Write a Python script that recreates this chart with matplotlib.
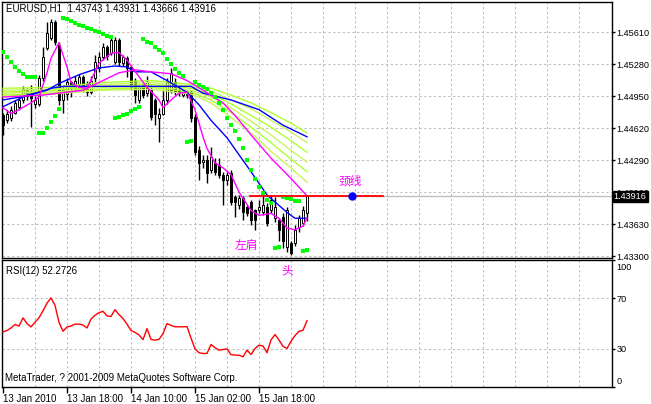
# -*- coding: utf-8 -*-
import matplotlib.pyplot as plt
from matplotlib.transforms import ScaledTranslation, blended_transform_factory

plt.rcParams['font.family'] = ['Liberation Sans', 'Noto Sans CJK SC', 'DejaVu Sans']

# EURUSD H1, 13-15 Jan 2010
opens = [1.4475, 1.4470, 1.4472, 1.4478, 1.4484, 1.4491, 1.4501, 1.4496, 1.4487, 1.4487,
         1.4514, 1.4545, 1.4555, 1.4571, 1.4548, 1.4491, 1.4497, 1.4509, 1.4503, 1.4507,
         1.4515, 1.4507, 1.4499, 1.4514, 1.4524, 1.4535, 1.4546, 1.4539, 1.4530, 1.4553,
         1.4529, 1.4534, 1.4525, 1.4511, 1.4491, 1.4506, 1.4498, 1.4501, 1.4491, 1.4472,
         1.4477, 1.4491, 1.4501, 1.4509, 1.4501, 1.4496, 1.4499, 1.4499, 1.4473, 1.4439,
         1.4427, 1.4429, 1.4419, 1.4426, 1.4424, 1.4414, 1.4408, 1.4416, 1.4391, 1.4383,
         1.4390, 1.4381, 1.4386, 1.4377, 1.4377, 1.4375, 1.4381, 1.4377, 1.4369, 1.4367,
         1.4370, 1.4339, 1.4343, 1.4343, 1.4360, 1.4364, 1.43743]
highs = [1.4478, 1.4481, 1.4485, 1.4491, 1.4495, 1.4505, 1.4503, 1.4506, 1.4495, 1.4517,
         1.4546, 1.4571, 1.4574, 1.4573, 1.4551, 1.4505, 1.4514, 1.4511, 1.4516, 1.4518,
         1.4517, 1.4511, 1.4516, 1.4537, 1.4540, 1.4550, 1.4548, 1.4556, 1.4556, 1.4555,
         1.4537, 1.4536, 1.4527, 1.4514, 1.4506, 1.4508, 1.4516, 1.4506, 1.4493, 1.4483,
         1.4501, 1.4514, 1.4524, 1.4514, 1.4505, 1.4502, 1.4501, 1.4501, 1.4476, 1.4444,
         1.4434, 1.4434, 1.4442, 1.4431, 1.4431, 1.4417, 1.4417, 1.4419, 1.4393, 1.4393,
         1.4392, 1.4383, 1.4388, 1.4379, 1.4388, 1.4393, 1.4385, 1.4393, 1.4391, 1.4369,
         1.4374, 1.4381, 1.4346, 1.4362, 1.4372, 1.4382, 1.43931]
lows = [1.4455, 1.4467, 1.4469, 1.4476, 1.4481, 1.4488, 1.4491, 1.4463, 1.4483, 1.4485,
        1.4511, 1.4542, 1.4553, 1.4548, 1.4486, 1.4478, 1.4491, 1.4494, 1.4499, 1.4503,
        1.4499, 1.4495, 1.4497, 1.4509, 1.4520, 1.4532, 1.4532, 1.4537, 1.4528, 1.4526,
        1.4526, 1.4515, 1.4501, 1.4488, 1.4488, 1.4493, 1.4495, 1.4470, 1.4465, 1.4448,
        1.4475, 1.4487, 1.4498, 1.4496, 1.4495, 1.4494, 1.4493, 1.4468, 1.4434, 1.4408,
        1.4421, 1.4405, 1.4416, 1.4414, 1.4410, 1.4383, 1.4403, 1.4383, 1.4370, 1.4379,
        1.4367, 1.4371, 1.4362, 1.4357, 1.4374, 1.4372, 1.4361, 1.4374, 1.4365, 1.4346,
        1.4338, 1.4334, 1.4331, 1.4340, 1.4355, 1.4361, 1.43666]
closes = [1.4465, 1.4477, 1.4481, 1.4488, 1.4491, 1.4502, 1.4495, 1.4493, 1.4491, 1.4514,
          1.4535, 1.4560, 1.4571, 1.4551, 1.4491, 1.4501, 1.4509, 1.4503, 1.4511, 1.4515,
          1.4505, 1.4499, 1.4511, 1.4530, 1.4535, 1.4546, 1.4536, 1.4553, 1.4553, 1.4530,
          1.4535, 1.4524, 1.4504, 1.4496, 1.4504, 1.4496, 1.4509, 1.4473, 1.4477, 1.4477,
          1.4491, 1.4509, 1.4519, 1.4499, 1.4498, 1.4499, 1.4496, 1.4472, 1.4437, 1.4426,
          1.4429, 1.4416, 1.4432, 1.4417, 1.4414, 1.4408, 1.4414, 1.4386, 1.4386, 1.4390,
          1.4375, 1.4374, 1.4367, 1.4367, 1.4381, 1.4383, 1.4364, 1.4388, 1.4381, 1.4357,
          1.4346, 1.4377, 1.4333, 1.4357, 1.4369, 1.4377, 1.43916]

# Parabolic SAR, one dot per bar
sar = [1.4540, 1.4535, 1.4530, 1.4525, 1.4521, 1.4518, 1.4515, 1.4515, 1.4515, 1.4457,
       1.4457, 1.4462, 1.4468, 1.4474, 1.4482, 1.4576, 1.4574, 1.4572, 1.4570, 1.4568,
       1.4567, 1.4565, 1.4564, 1.4562, 1.4561, 1.4559, 1.4557, 1.4556, 1.4472, 1.4473,
       1.4475, 1.4477, 1.4480, 1.4482, 1.4484, 1.4554, 1.4551, 1.4550, 1.4546, 1.4542,
       1.4539, 1.4533, 1.4528, 1.4523, 1.4519, 1.4516, 1.4448, 1.4449, 1.4509, 1.4506,
       1.4504, 1.4502, 1.4498, 1.4494, 1.4488, 1.4481, 1.4472, 1.4465, 1.4459, 1.4451,
       1.4441, 1.4429, 1.4419, 1.4409, 1.4401, 1.4395, 1.4388, 1.4385, 1.4338, 1.4339,
       1.4391, 1.4390, 1.4389, 1.4387, 1.4387, 1.4335, 1.4336]

# moving averages, read at some bars (bar index, price)
fast_ma_bars = [0, 2, 4, 7, 9, 11, 12, 14, 16, 17, 19, 21, 23, 24, 27, 29, 31, 34, 36, 39,
                40, 42, 44, 46, 48, 50, 51, 53, 55, 57, 59, 62, 64, 67, 69, 71, 73, 75, 76]
fast_ma = [1.4483, 1.4477, 1.4481, 1.4488, 1.4494, 1.4519, 1.4534, 1.4550, 1.4525, 1.4509,
           1.4504, 1.4503, 1.4520, 1.4529, 1.4539, 1.4540, 1.4532, 1.4515, 1.4504, 1.4491,
           1.4483, 1.4491, 1.4498, 1.4499, 1.4481, 1.4453, 1.4441, 1.4426, 1.4421, 1.4414,
           1.4396, 1.4377, 1.4372, 1.4374, 1.4369, 1.4359, 1.4357, 1.4361, 1.4369]
slow_ma_bars = [0, 10, 20, 25, 29, 33, 37, 42, 46, 50, 55, 58, 62, 67, 72, 76]
slow_ma = [1.4494, 1.4496, 1.4501, 1.4511, 1.4519, 1.4522, 1.4520, 1.4518, 1.4511, 1.4501,
           1.4488, 1.4475, 1.4455, 1.4431, 1.4410, 1.4392]
mid_ma_bars = [0, 6, 11, 14, 19, 24, 28, 31, 33, 37, 41, 46, 49, 52, 56, 62, 66, 71, 73, 76]
mid_ma = [1.4484, 1.4496, 1.4501, 1.4508, 1.4517, 1.4524, 1.4526, 1.4525, 1.4520, 1.4520,
          1.4511, 1.4499, 1.4486, 1.4470, 1.4452, 1.4417, 1.4393, 1.4375, 1.4369, 1.4369]
long_ma_bars = [0, 7, 12, 15, 47, 50, 57, 64, 70, 76]
long_ma = [1.4491, 1.4496, 1.4503, 1.4505, 1.4505, 1.4498, 1.4491, 1.4481, 1.4465, 1.4453]

# the yellow-green ribbon
ribbon_bars = [0, 12, 25, 37, 47, 52, 57, 62, 67, 72, 76]
ribbon_1 = [1.4503, 1.4504, 1.4509, 1.4511, 1.4507, 1.4503, 1.4496, 1.4488, 1.4478, 1.4467, 1.4457]
ribbon_2 = [1.4501, 1.4502, 1.4507, 1.4509, 1.4505, 1.4500, 1.4491, 1.4482, 1.4470, 1.4458, 1.4447]
ribbon_3 = [1.4499, 1.4501, 1.4505, 1.4507, 1.4503, 1.4497, 1.4487, 1.4475, 1.4463, 1.4449, 1.4437]
ribbon_4 = [1.4498, 1.4499, 1.4504, 1.4505, 1.4501, 1.4494, 1.4483, 1.4469, 1.4455, 1.4439, 1.4427]
ribbon_5 = [1.4496, 1.4498, 1.4502, 1.4504, 1.4499, 1.4491, 1.4478, 1.4463, 1.4447, 1.4430, 1.4417]
ribbon_6 = [1.4495, 1.4497, 1.4501, 1.4502, 1.4497, 1.4488, 1.4473, 1.4457, 1.4438, 1.4421, 1.4406]

# RSI(12)
rsi = [43.4, 44.5, 46.5, 49.2, 48.0, 54.4, 50.0, 47.3, 51.0, 54.5,
       60.0, 66.0, 70.2, 64.3, 51.0, 43.9, 47.3, 48.0, 49.5, 49.5,
       48.8, 46.5, 53.5, 56.5, 58.5, 59.6, 56.0, 55.5, 60.9, 57.0,
       53.9, 49.5, 44.5, 43.0, 41.0, 37.3, 46.0, 37.5, 36.9, 37.5,
       42.0, 50.0, 48.5, 47.4, 47.4, 47.4, 47.6, 38.5, 30.0, 27.0,
       26.4, 26.4, 33.5, 31.0, 29.0, 29.5, 30.0, 25.5, 25.1, 25.0,
       23.8, 29.0, 25.6, 30.3, 32.9, 32.3, 27.0, 37.0, 41.3, 37.0,
       32.0, 30.3, 36.0, 40.5, 43.9, 44.7, 52.27]

price_ticks = [1.45610, 1.45280, 1.44950, 1.44620, 1.44290, 1.43960, 1.43630, 1.43300]
date_ticks = [0, 16, 32, 48, 64]
date_labels = ['13 Jan 2010', '13 Jan 18:00', '14 Jan 10:00', '15 Jan 02:00', '15 Jan 18:00']

# hand-drawn neckline (bar from, bar to, price) and labels
neck_start, neck_end, neck_price, neck_point = 61.75, 95.0, 1.43918, 87.25

GRID = dict(color='#c0c0c0', lw=0.75, dashes=(2.3, 2.3))


def draw_chart():
    fig = plt.figure(figsize=(6.51, 4.04), dpi=100)
    ax = fig.add_axes([2 / 651, 1 - 258 / 404, 610 / 651, 256 / 404])
    ax2 = fig.add_axes([2 / 651, 1 - 387 / 404, 610 / 651, 127 / 404])
    n = len(closes)
    idx = list(range(n))

    for a in (ax, ax2):
        a.set_xlim(-0.25, 152.25)
        for v in range(8, 152, 8):
            a.axvline(v, zorder=0, **GRID)
        for s in a.spines.values():
            s.set_linewidth(1.0)
            s.set_color('black')

    # main panel
    ax.set_ylim(1.43280, 1.45920)
    for p in price_ticks:
        ax.axhline(p, zorder=0, **GRID)
    ax.axhline(closes[-1], color='#c0c0c0', lw=1.0, zorder=0.5)

    ax.vlines(idx, lows, highs, color='black', lw=1.0, zorder=2)
    bottoms = [min(o, c) for o, c in zip(opens, closes)]
    heights = [max(abs(c - o), 0.00003) for o, c in zip(opens, closes)]
    faces = ['white' if c >= o else 'black' for o, c in zip(opens, closes)]
    ax.bar(idx, heights, bottom=bottoms, width=0.72, color=faces,
           edgecolor='black', linewidth=0.7, zorder=2.2)

    for vals in (ribbon_1, ribbon_3, ribbon_5):
        ax.plot(ribbon_bars, vals, color='#adff2f', lw=1.0, zorder=3)
    for vals in (ribbon_2, ribbon_4, ribbon_6):
        ax.plot(ribbon_bars, vals, color='#c8f55a', lw=1.0, zorder=3)
    ax.plot(long_ma_bars, long_ma, color='#0000ff', lw=1.0, zorder=3.1)
    ax.plot(mid_ma_bars, mid_ma, color='#0000ff', lw=1.0, zorder=3.1)
    ax.plot(slow_ma_bars, slow_ma, color='#ff00ff', lw=1.0, zorder=3.2)
    ax.plot(fast_ma_bars, fast_ma, color='#ff00ff', lw=1.0, zorder=3.2)
    ax.plot(idx, sar, 's', color='#00ff00', ms=3.0, mew=0, zorder=4)

    ax.plot([neck_start, neck_end], [neck_price, neck_price], color='#ff0000', lw=1.3, zorder=4)
    ax.plot(neck_point, neck_price, 'o', color='#0000ff', ms=5, zorder=5)
    ax.text(86.75, 1.44063, '颈线', color='#ff00ff', fontsize=8.5, ha='center', va='center')
    ax.text(60.75, 1.43403, '左肩', color='#ff00ff', fontsize=8.5, ha='center', va='center')

    ax.yaxis.tick_right()
    ax.set_yticks(price_ticks)
    ax.set_yticklabels([f'{p:.5f}' for p in price_ticks])
    ax.tick_params(axis='y', length=2.5, width=1, pad=0.8, labelsize=6.6)
    ax.set_xticks([])
    ax.text(0.007, 0.995, 'EURUSD,H1  1.43743 1.43931 1.43666 1.43916',
            transform=ax.transAxes, fontsize=7, va='top', ha='left')
    tr = blended_transform_factory(ax.transAxes, ax.transData)
    ax.text(1.003, closes[-1], '1.43916', transform=tr, fontsize=6.6, color='white',
            va='center', ha='left', zorder=10, clip_on=False,
            bbox=dict(boxstyle='square,pad=0.12', fc='black', ec='black'))

    # RSI panel
    ax2.set_ylim(0, 100)
    for lvl in (70, 30):
        ax2.axhline(lvl, zorder=0, **GRID)
    ax2.plot(idx, rsi, color='#ff0000', lw=1.0, zorder=3)
    ax2.yaxis.tick_right()
    ax2.set_yticks([100, 70, 30, 0])
    ax2.set_yticklabels(['100', '70', '30', '0'])
    ax2.tick_params(axis='y', length=2.5, width=1, pad=0.8, labelsize=6.6)
    labels = ax2.get_yticklabels()
    labels[0].set_transform(labels[0].get_transform() + ScaledTranslation(0, -5 / 72, fig.dpi_scale_trans))
    labels[3].set_transform(labels[3].get_transform() + ScaledTranslation(0, 5 / 72, fig.dpi_scale_trans))
    ax2.set_xticks(date_ticks)
    ax2.set_xticklabels(date_labels, ha='left')
    ax2.tick_params(axis='x', length=4, width=1, pad=1, labelsize=7)
    ax2.text(0.007, 0.95, 'RSI(12) 52.2726', transform=ax2.transAxes, fontsize=7, va='top')
    ax2.text(0.005, 0.03, 'MetaTrader, ? 2001-2009 MetaQuotes Software Corp.',
             transform=ax2.transAxes, fontsize=7, va='bottom')
    ax2.text(71, 91, '头', color='#ff00ff', fontsize=8.5, ha='center', va='center')

    fig.savefig('out.png', dpi=100)
    plt.close(fig)


if __name__ == '__main__':
    draw_chart()
